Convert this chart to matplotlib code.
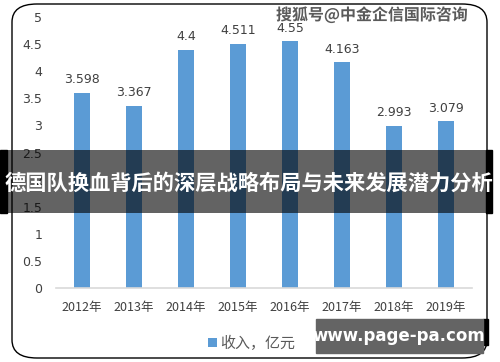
import matplotlib
matplotlib.use('Agg')
import matplotlib.pyplot as plt
import matplotlib.patheffects as pe
from matplotlib.patches import FancyBboxPatch, Rectangle

plt.rcParams['font.family'] = ['Noto Sans CJK SC', 'DejaVu Sans']

# data
years = ['2012年', '2013年', '2014年', '2015年', '2016年', '2017年', '2018年', '2019年']
revenue = [3.598, 3.367, 4.4, 4.511, 4.55, 4.163, 2.993, 3.079]
value_labels = ['3.598', '3.367', '4.4', '4.511', '4.55', '4.163', '2.993', '3.079']
y_ticks = [0, 0.5, 1, 1.5, 2, 2.5, 3, 3.5, 4, 4.5, 5]
y_tick_labels = ['0', '0.5', '1', '1.5', '2', '2.5', '3', '3.5', '4', '4.5', '5']
legend_label = '收入，亿元'
banner_title = '德国队换血背后的深层战略布局与未来发展潜力分析'
watermark = '搜狐号@中金企信国际咨询'
site = 'www.page-pa.com'

W, H = 500, 362
fig = plt.figure(figsize=(5, 3.62), dpi=100)
fig.patch.set_facecolor('white')

# rounded frame
frame = FancyBboxPatch((12 / W, 4 / H), 475 / W, 354 / H,
                       boxstyle='round,pad=0,rounding_size=0.05',
                       transform=fig.transFigure, fill=False,
                       edgecolor='black', linewidth=1.0, zorder=0)
fig.patches.append(frame)

ax = fig.add_axes([56 / W, 74 / H, 416 / W, 271 / H])
x = list(range(len(years)))
bars = ax.bar(x, revenue, width=0.31, color='#5B9BD5', label=legend_label, zorder=2)
for xi, v, lab in zip(x, revenue, value_labels):
    ax.text(xi, v + 0.12, lab, ha='center', va='bottom', fontsize=9,
            color='#404040', family=['DejaVu Sans'])

ax.set_xlim(-0.5, len(years) - 0.5)
ax.set_ylim(0, 5)
ax.set_yticks(y_ticks)
ax.set_yticklabels(y_tick_labels, fontsize=9, color='#404040', family=['DejaVu Sans'])
ax.set_xticks(x)
ax.set_xticklabels(years, fontsize=9, color='#404040')
ax.tick_params(length=0, pad=10)
ax.tick_params(axis='x', pad=9)
for s in ['top', 'right', 'left']:
    ax.spines[s].set_visible(False)
ax.spines['bottom'].set_color('#d9d9d9')
ax.spines['bottom'].set_linewidth(1.2)

leg = ax.legend(loc='upper center', bbox_to_anchor=(0.47, -0.125), frameon=False,
                fontsize=10.8, handlelength=0.55, handleheight=0.55, handletextpad=0.2)
for t in leg.get_texts():
    t.set_color('#595959')

# watermark top right
fig.text(372 / W, 1 - 15 / H, watermark, ha='center', va='center', fontsize=11.5,
         color='#5a5a5a', fontweight='bold',
         path_effects=[pe.withStroke(linewidth=2, foreground='white')])

# dark banner over the middle
fig.patches.append(Rectangle((0, 1 - 213 / H), 7 / W, 63 / H, transform=fig.transFigure,
                             color='black', zorder=5))
fig.patches.append(Rectangle((486 / W, 1 - 213 / H), 6 / W, 63 / H, transform=fig.transFigure,
                             color='black', zorder=5))
fig.patches.append(Rectangle((7 / W, 1 - 213 / H), 479 / W, 63 / H, transform=fig.transFigure,
                             color='black', alpha=0.61, zorder=5, linewidth=0))
fig.text(249 / W, 1 - 183 / H, banner_title, ha='center', va='center', fontsize=15.3,
         color='white', fontweight='bold', zorder=6)

# site box bottom right
fig.patches.append(Rectangle((483 / W, 1 - 345 / H), 5 / W, 26 / H, transform=fig.transFigure,
                             color='black', zorder=5))
fig.patches.append(Rectangle((316 / W, 1 - 353 / H), 167 / W, 34 / H, transform=fig.transFigure,
                             color='#646464', zorder=5))
fig.text(399 / W, 1 - 336 / H, site, ha='center', va='center', fontsize=12,
         color='white', fontweight='bold', family=['DejaVu Sans'], zorder=6)

fig.savefig('out.png', dpi=100)
